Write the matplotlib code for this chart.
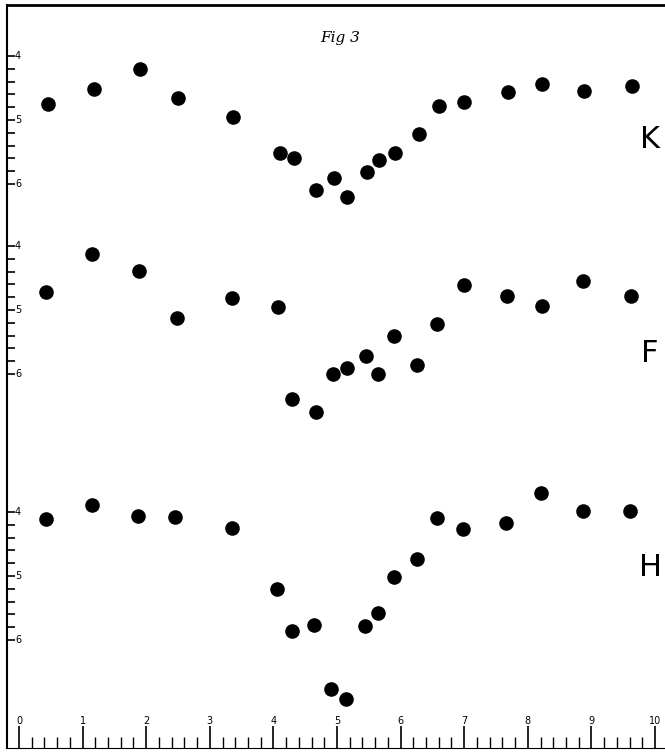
import matplotlib
matplotlib.use("Agg")
import matplotlib.pyplot as plt
from matplotlib.ticker import MultipleLocator, FixedLocator
import numpy as np

# valores (tres series: K, F, H)
x_k = [0.45, 1.18, 1.90, 2.50, 3.36, 4.10, 4.32, 4.67, 4.95, 5.16,
       5.47, 5.66, 5.91, 6.29, 6.60, 7.00, 7.69, 8.22, 8.88, 9.64]
y_k = [4.75, 4.52, 4.20, 4.66, 4.95, 5.52, 5.59, 6.09, 5.91, 6.20,
       5.81, 5.63, 5.52, 5.22, 4.78, 4.72, 4.56, 4.44, 4.55, 4.47]

x_f = [0.43, 1.15, 1.89, 2.48, 3.35, 4.07, 4.29, 4.67, 4.94, 5.16,
       5.46, 5.64, 5.90, 6.26, 6.57, 7.00, 7.67, 8.22, 8.87, 9.62]
y_f = [4.72, 4.13, 4.39, 5.13, 4.81, 4.95, 6.39, 6.59, 6.00, 5.91,
       5.72, 6.00, 5.41, 5.86, 5.22, 4.61, 4.78, 4.94, 4.55, 4.78]

x_h = [0.42, 1.15, 1.87, 2.45, 3.35, 4.06, 4.29, 4.64, 4.91, 5.14,
       5.44, 5.64, 5.90, 6.26, 6.57, 6.98, 7.66, 8.21, 8.87, 9.61]
y_h = [4.11, 3.89, 4.06, 4.08, 4.25, 5.20, 5.86, 5.77, 6.77, 6.92,
       5.78, 5.58, 5.02, 4.73, 4.09, 4.27, 4.17, 3.70, 3.98, 3.98]

series = ['K', 'F', 'H']
x_ticks = list(range(11))
y_ticks = [4, 5, 6]


def graficar():
    fig = plt.figure(figsize=(6.65, 7.52), dpi=100)
    ax = fig.add_axes([7 / 665, 4 / 752, 658 / 665, 743 / 752])

    # desplazamiento vertical de cada panel
    desplazamiento = {'K': 0.0, 'F': 2.97, 'H': 7.125}
    datos = {'K': (x_k, y_k), 'F': (x_f, y_f), 'H': (x_h, y_h)}
    pos_letra = {'K': 140, 'F': 353, 'H': 567}

    mayores = []
    menores = []
    for s in series:
        xs, ys = datos[s]
        d = desplazamiento[s]
        ax.plot(xs, np.array(ys) + d, 'o', color='black', ms=10.5,
                markeredgewidth=0, zorder=3)
        for v in y_ticks:
            mayores.append(v + d)
            ax.text(0.012, v + d, str(v), transform=ax.get_yaxis_transform(),
                    ha='left', va='center', fontsize=7)
        menores.extend(list(np.arange(4, 6.01, 0.2) + d))
        fig.text(650 / 665, 1 - pos_letra[s] / 752, s, ha='center',
                 va='center', fontsize=22, color='black',
                 family='DejaVu Sans')

    ax.set_xlim(-0.189, 10.157)
    ax.set_ylim(4 + (748 - 56) / 64, 4 + (5 - 56) / 64)

    ax.yaxis.set_major_locator(FixedLocator(mayores))
    ax.yaxis.set_minor_locator(FixedLocator(menores))
    ax.set_yticklabels([])
    ax.tick_params(axis='y', which='both', direction='in', length=6,
                   width=1.2)

    ax.xaxis.set_major_locator(FixedLocator(x_ticks))
    ax.xaxis.set_minor_locator(MultipleLocator(0.2))
    ax.set_xticklabels([str(t) for t in x_ticks])
    ax.tick_params(axis='x', which='major', direction='in', length=16,
                   width=1.2, pad=-23, labelsize=7)
    ax.tick_params(axis='x', which='minor', direction='in', length=8,
                   width=1.0)

    # bordes
    ax.spines['right'].set_visible(False)
    ax.spines['left'].set_linewidth(1.5)
    ax.spines['top'].set_linewidth(2)
    ax.spines['bottom'].set_linewidth(0.8)

    fig.text(340 / 665, 1 - 38 / 752, 'Fig 3', ha='center', va='center',
             fontsize=11, style='italic', family='DejaVu Serif')

    fig.savefig('out.png', dpi=100)
    plt.close(fig)


graficar()
